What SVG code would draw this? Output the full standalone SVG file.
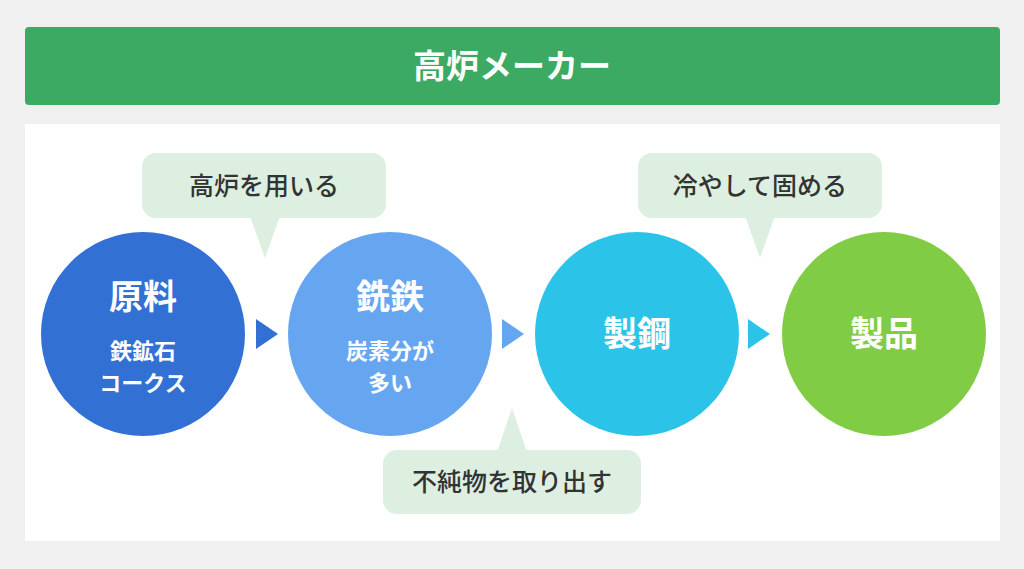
<svg xmlns="http://www.w3.org/2000/svg" width="1024" height="569" viewBox="0 0 1024 569">
<style>
text{font-family:"Noto Sans CJK JP","Noto Sans",sans-serif;text-anchor:middle;font-weight:bold}
.t{fill:#fff}
.big{font-size:34px}
.sm{font-size:22px}
.c{font-size:25px;fill:#333;font-weight:500}
.bub{fill:#dcefe0}
</style>
<rect width="1024" height="569" fill="#f0f0f0"/>
<g id="header"><rect x="25" y="27" width="975" height="78" rx="4" fill="#3daa64"/>
<text class="t" x="512" y="78" font-size="33">高炉メーカー</text></g>
<rect x="25" y="124" width="975" height="417" fill="#fff"/>
<g id="connectors">
<polygon points="256,319 278,334 256,349" fill="#3370d4"/>
<polygon points="502,319 524,334 502,349" fill="#66a6f0"/>
<polygon points="748,319 770,334 748,349" fill="#2bc4e8"/>
</g>
<g id="n1"><circle cx="143" cy="334" r="102" fill="#3370d4"/>
<text class="t big" x="143" y="309">原料</text>
<text class="t sm" x="143" y="359">鉄鉱石</text>
<text class="t sm" x="143" y="391">コークス</text></g>
<g id="n2"><circle cx="390" cy="334" r="102" fill="#66a6f0"/>
<text class="t big" x="390" y="309">銑鉄</text>
<text class="t sm" x="390" y="359">炭素分が</text>
<text class="t sm" x="390" y="391">多い</text></g>
<g id="n3"><circle cx="637" cy="334" r="102" fill="#2bc4e8"/>
<text class="t big" x="637" y="346">製鋼</text></g>
<g id="n4"><circle cx="884" cy="334" r="102" fill="#80cc44"/>
<text class="t big" x="884" y="346">製品</text></g>
<g id="b1"><rect class="bub" x="142" y="153" width="244" height="65" rx="14"/>
<polygon class="bub" points="250,216 280,216 265,258"/>
<text class="c" x="264" y="195">高炉を用いる</text></g>
<g id="b2"><rect class="bub" x="638" y="153" width="244" height="65" rx="14"/>
<polygon class="bub" points="745,216 775,216 760,258"/>
<text class="c" x="760" y="195">冷やして固める</text></g>
<g id="b3"><rect class="bub" x="383" y="450" width="258" height="64" rx="14"/>
<polygon class="bub" points="497,452 527,452 512,408"/>
<text class="c" x="512" y="491">不純物を取り出す</text></g>
</svg>
